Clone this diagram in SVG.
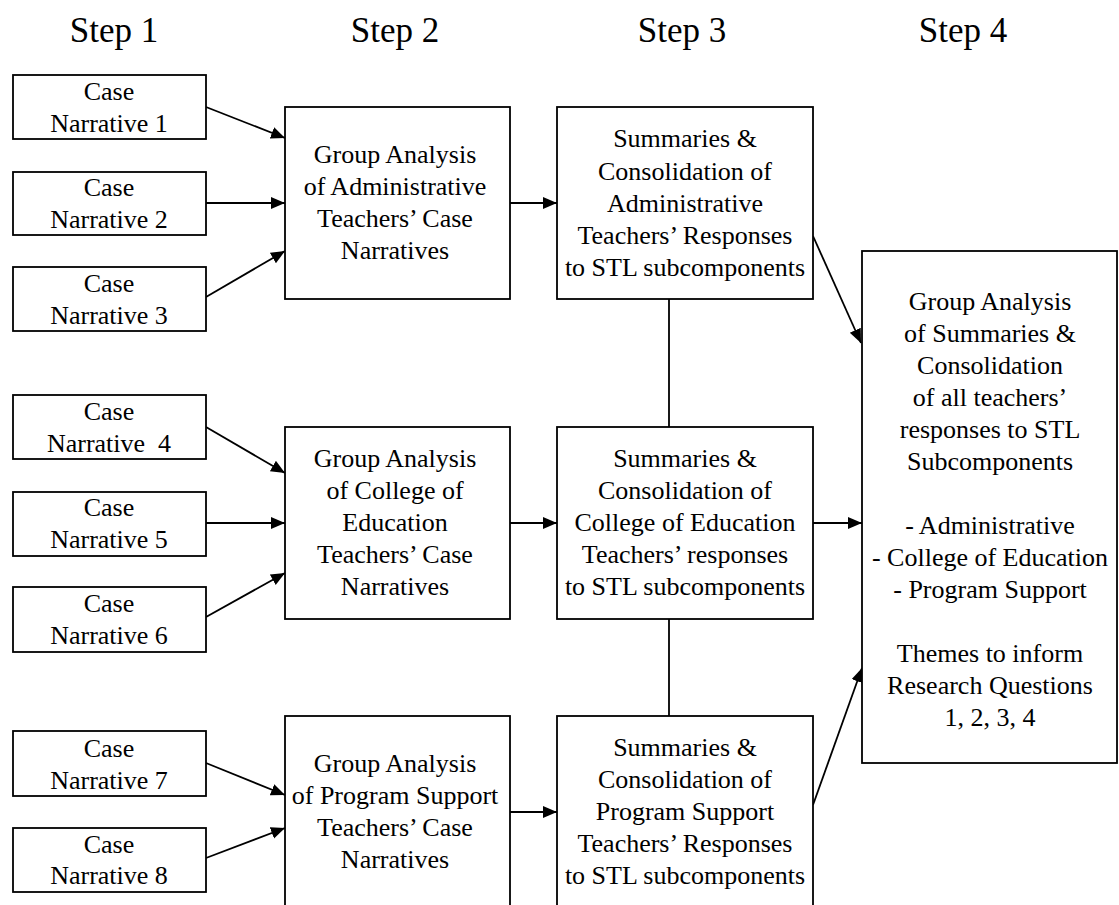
<svg xmlns="http://www.w3.org/2000/svg" width="1119" height="905" viewBox="0 0 1119 905">
<defs>
<marker id="ah" markerUnits="userSpaceOnUse" markerWidth="16" markerHeight="14" refX="14" refY="6" orient="auto">
<path d="M0,0 L14,6 L0,12 z" fill="#000"/>
</marker>
</defs>
<style>
.box{fill:#fff;stroke:#000;stroke-width:1.8}
.t{font-family:"Liberation Serif","Times New Roman",serif;font-size:26px;fill:#000;text-anchor:middle}
.h{font-family:"Liberation Serif","Times New Roman",serif;font-size:35px;fill:#000;text-anchor:middle}
.c{stroke:#000;stroke-width:1.8;fill:none}
.a{marker-end:url(#ah)}
</style>
<rect width="1119" height="905" fill="#fff"/>
<g id="headers">
<text class="h" x="114" y="42">Step 1</text>
<text class="h" x="395" y="42">Step 2</text>
<text class="h" x="682" y="42">Step 3</text>
<text class="h" x="963" y="42">Step 4</text>
</g>
<g id="connectors">
<line class="c a" x1="206" y1="107" x2="285" y2="138"/>
<line class="c a" x1="206" y1="203" x2="285" y2="203"/>
<line class="c a" x1="206" y1="297" x2="285" y2="251"/>
<line class="c a" x1="510" y1="203" x2="557" y2="203"/>
<line class="c a" x1="206" y1="427" x2="285" y2="473"/>
<line class="c a" x1="206" y1="523" x2="285" y2="523"/>
<line class="c a" x1="206" y1="617" x2="285" y2="573"/>
<line class="c a" x1="510" y1="523" x2="557" y2="523"/>
<line class="c a" x1="206" y1="763" x2="285" y2="795"/>
<line class="c a" x1="206" y1="858" x2="285" y2="828"/>
<line class="c a" x1="510" y1="812" x2="557" y2="812"/>
<line class="c a" x1="813" y1="236" x2="861" y2="343"/>
<line class="c a" x1="813" y1="523" x2="862" y2="523"/>
<line class="c a" x1="813" y1="805" x2="862" y2="668"/>
<line class="c" x1="669" y1="299" x2="669" y2="427"/>
<line class="c" x1="669" y1="619" x2="669" y2="716"/>
</g>
<g id="case1"><rect class="box" x="13" y="75" width="193" height="64"/><text class="t" x="109" y="100">Case</text><text class="t" x="109" y="132">Narrative 1</text></g>
<g id="case2"><rect class="box" x="13" y="172" width="193" height="63"/><text class="t" x="109" y="196">Case</text><text class="t" x="109" y="228">Narrative 2</text></g>
<g id="case3"><rect class="box" x="13" y="267" width="193" height="64"/><text class="t" x="109" y="292">Case</text><text class="t" x="109" y="324">Narrative 3</text></g>
<g id="case4"><rect class="box" x="13" y="395" width="193" height="64"/><text class="t" x="109" y="420">Case</text><text class="t" x="109" y="452">Narrative&#160; 4</text></g>
<g id="case5"><rect class="box" x="13" y="492" width="193" height="64"/><text class="t" x="109" y="516">Case</text><text class="t" x="109" y="548">Narrative 5</text></g>
<g id="case6"><rect class="box" x="13" y="587" width="193" height="65"/><text class="t" x="109" y="612">Case</text><text class="t" x="109" y="644">Narrative 6</text></g>
<g id="case7"><rect class="box" x="13" y="731" width="193" height="65"/><text class="t" x="109" y="757">Case</text><text class="t" x="109" y="789">Narrative 7</text></g>
<g id="case8"><rect class="box" x="13" y="828" width="193" height="64"/><text class="t" x="109" y="853">Case</text><text class="t" x="109" y="884">Narrative 8</text></g>
<g id="group-admin"><rect class="box" x="285" y="107" width="225" height="192"/>
<text class="t" x="395" y="163">Group Analysis</text><text class="t" x="395" y="195">of Administrative</text><text class="t" x="395" y="227">Teachers’ Case</text><text class="t" x="395" y="259">Narratives</text></g>
<g id="group-coe"><rect class="box" x="285" y="427" width="225" height="192"/>
<text class="t" x="395" y="467">Group Analysis</text><text class="t" x="395" y="499">of College of</text><text class="t" x="395" y="531">Education</text><text class="t" x="395" y="563">Teachers’ Case</text><text class="t" x="395" y="595">Narratives</text></g>
<g id="group-ps"><rect class="box" x="285" y="716" width="225" height="210"/>
<text class="t" x="395" y="772">Group Analysis</text><text class="t" x="395" y="804">of Program Support</text><text class="t" x="395" y="836">Teachers’ Case</text><text class="t" x="395" y="868">Narratives</text></g>
<g id="sum-admin"><rect class="box" x="557" y="107" width="256" height="192"/>
<text class="t" x="685" y="147">Summaries &amp;</text><text class="t" x="685" y="180">Consolidation of</text><text class="t" x="685" y="212">Administrative</text><text class="t" x="685" y="244">Teachers’ Responses</text><text class="t" x="685" y="276">to STL subcomponents</text></g>
<g id="sum-coe"><rect class="box" x="557" y="427" width="256" height="192"/>
<text class="t" x="685" y="467">Summaries &amp;</text><text class="t" x="685" y="499">Consolidation of</text><text class="t" x="685" y="531">College of Education</text><text class="t" x="685" y="563">Teachers’ responses</text><text class="t" x="685" y="595">to STL subcomponents</text></g>
<g id="sum-ps"><rect class="box" x="557" y="716" width="256" height="210"/>
<text class="t" x="685" y="756">Summaries &amp;</text><text class="t" x="685" y="788">Consolidation of</text><text class="t" x="685" y="820">Program Support</text><text class="t" x="685" y="852">Teachers’ Responses</text><text class="t" x="685" y="884">to STL subcomponents</text></g>
<g id="final"><rect class="box" x="862" y="251" width="255" height="512"/>
<text class="t" x="990" y="310">Group Analysis</text><text class="t" x="990" y="342">of Summaries &amp;</text><text class="t" x="990" y="374">Consolidation</text><text class="t" x="990" y="406">of all teachers’</text><text class="t" x="990" y="438">responses to STL</text><text class="t" x="990" y="470">Subcomponents</text>
<text class="t" x="990" y="534">- Administrative</text><text class="t" x="990" y="566">- College of Education</text><text class="t" x="990" y="598">- Program Support</text>
<text class="t" x="990" y="662">Themes to inform</text><text class="t" x="990" y="694">Research Questions</text><text class="t" x="990" y="726">1, 2, 3, 4</text></g>
</svg>
